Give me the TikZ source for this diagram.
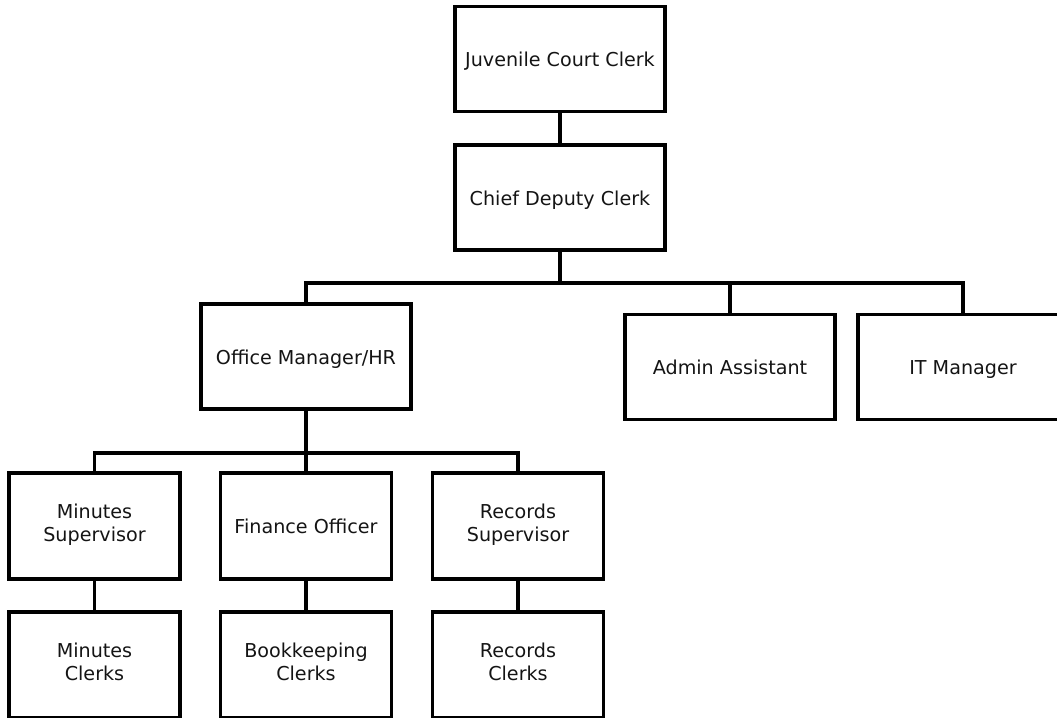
\documentclass[tikz,border=0pt]{standalone}
\usepackage{fontspec}
\setmainfont{DejaVu Sans}
\usetikzlibrary{positioning, calc}
\definecolor{orgLine}{RGB}{0, 0, 0}
\definecolor{orgText}{RGB}{20, 20, 20}
\tikzset{
  OrgBase/.style  = {draw=orgLine, line width=1.8pt, rectangle, align=center,
                     inner sep=2pt, text=orgText,
                     font=\fontsize{10.9}{13}\selectfont,
                     execute at begin node=\rule{0pt}{12.5pt},
                     execute at end node=\strut},
  OrgBox/.style   = {OrgBase, minimum width=4.2cm, minimum height=2.1cm},
  OrgSmall/.style = {OrgBase, minimum width=3.42cm, minimum height=2.12cm},
  OrgLine/.style  = {draw=orgLine, line width=1.8pt},
}
\begin{document}
\begin{tikzpicture}[x=0.02cm, y=-0.02cm]
    \useasboundingbox (0,0) rectangle (1057,717);
    \node[OrgBox] (jcc) at (560,59) {Juvenile Court Clerk};
    \node[OrgBox] (chief) at (560,197.5) {Chief Deputy Clerk};
    \node[OrgBox] (office) at (306,356.5) {Office Manager/HR};
    \node[OrgBox] (admin) at (730,367) {Admin Assistant};
    \node[OrgBox] (itman) at (963,367) {IT Manager};
    \node[OrgSmall] (minsup) at (94.5,526) {Minutes\\Supervisor};
    \node[OrgSmall] (finance) at (306,526) {Finance Officer};
    \node[OrgSmall] (recsup) at (518,526) {Records\\Supervisor};
    \node[OrgSmall] (minclerk) at (94.5,665) {Minutes\\Clerks};
    \node[OrgSmall] (bookclerk) at (306,665) {Bookkeeping\\Clerks};
    \node[OrgSmall] (recclerk) at (518,665) {Records\\Clerks};
    \coordinate (upperbus) at (560,283);
    \coordinate (lowerbus) at (306,453);
    \draw[OrgLine] (jcc) -- (chief);
    \draw[OrgLine] (chief.south) -- (upperbus);
    \draw[OrgLine] (office.north) |- (upperbus) -| (itman.north);
    \draw[OrgLine] (upperbus) -| (admin.north);
    \draw[OrgLine] (office.south) -- (lowerbus) -- (finance.north);
    \draw[OrgLine] (minsup.north) |- (lowerbus) -| (recsup.north);
    \draw[OrgLine] (minsup) -- (minclerk);
    \draw[OrgLine] (finance) -- (bookclerk);
    \draw[OrgLine] (recsup) -- (recclerk);
\end{tikzpicture}
\end{document}
